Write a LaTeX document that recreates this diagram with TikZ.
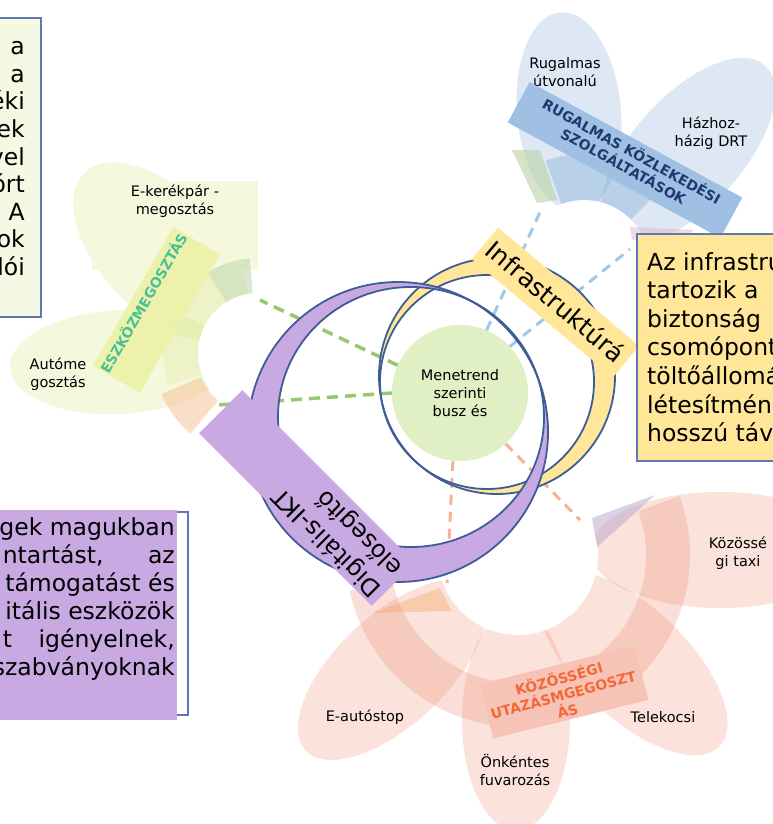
\documentclass[tikz,border=0pt]{standalone}
\usepackage{fontspec}
\setmainfont{DejaVu Sans}

\definecolor{ringblue}{RGB}{62,92,152}
\definecolor{boxline}{RGB}{95,120,178}
\definecolor{infrayellow}{RGB}{255,230,153}
\definecolor{digitpurple}{RGB}{201,169,226}
\definecolor{busgreen}{RGB}{224,240,196}
\definecolor{notegreen}{RGB}{246,248,227}
\definecolor{sharegreen}{RGB}{215,228,120}
\definecolor{sharebanner}{RGB}{236,242,166}
\definecolor{shareteal}{RGB}{72,192,150}
\definecolor{flexblue}{RGB}{120,165,215}
\definecolor{flexnavy}{RGB}{31,58,110}
\definecolor{commsalmon}{RGB}{240,140,115}
\definecolor{commorange}{RGB}{242,105,55}
\definecolor{dashgreen}{RGB}{150,200,110}
\definecolor{dashblue}{RGB}{160,200,235}
\definecolor{dashorange}{RGB}{245,180,145}
\definecolor{tintpink}{RGB}{225,180,205}
\definecolor{tintsage}{RGB}{185,210,165}
\definecolor{tintpeach}{RGB}{245,185,135}
\definecolor{tintlilac}{RGB}{185,165,205}

\newcommand{\clusterband}[6]{%
  \fill[#6] (#1) ++(#4:#3) arc[start angle=#4, end angle=#5, radius=#3]
    -- ++(#5:{#2-#3}) arc[start angle=#5, end angle=#4, radius=#2] -- cycle;}

\begin{document}
\begin{tikzpicture}[x=1pt, y=1pt,
  ringline/.style={draw=ringblue, line width=1.8pt},
  notebox/.style={draw=boxline, line width=1.5pt},
  notetext/.style={font=\fontsize{23.5}{28}\selectfont, inner sep=0pt},
  petallabel/.style={font=\fontsize{14.5}{18}\selectfont, align=center, inner sep=3pt},
  bannertext/.style={font=\bfseries\fontsize{14}{17}\selectfont, align=center, inner sep=0pt},
  greendash/.style={draw=dashgreen, line width=3.5pt, dash pattern=on 11pt off 7pt},
  bluedash/.style={draw=dashblue, line width=3pt, dash pattern=on 10pt off 7pt},
  orangedash/.style={draw=dashorange, line width=3pt, dash pattern=on 10pt off 7pt}]
\useasboundingbox (0,0) rectangle (773,-824);
\fill[white] (0,0) rectangle (773,-824);

% rugalmas kozlekedes
\coordinate (flexhub) at (584,-266);
\fill[flexblue, opacity=0.25, rotate around={95:(569,-112)}] (569,-112) ellipse [x radius=100, y radius=52];
\fill[flexblue, opacity=0.25, rotate around={48:(688,-151)}] (688,-151) ellipse [x radius=115, y radius=55];
\node[petallabel] (route) at (565,-72) {Rugalmas\\útvonalú};
\node[petallabel] (drt) at (711,-133) {Házhoz-\\házig DRT};
\fill[white] (flexhub) circle (66);
\clusterband{flexhub}{66}{112}{45}{110}{flexblue, opacity=0.35}
\fill[tintpink, opacity=0.5] (630,-227) -- (693,-230) -- (690,-236) -- (632,-240) -- cycle;
\fill[tintsage, opacity=0.6] (512,-150) -- (540,-150) -- (557,-200) -- (537,-203) -- cycle;
\fill[flexblue!70, rotate around={-28.5:(625,-160)}] (504,-183) rectangle ++(242,46);
\node[bannertext, text=flexnavy, rotate=-29] (flextitle) at (628,-158) {RUGALMAS KÖZLEKEDÉSI\\SZOLGÁLTATÁSOK};

% eszkozmegosztas
\coordinate (sharehub) at (258,-353);
\fill[sharegreen, opacity=0.25, rotate around={3:(120,-362)}] (120,-362) ellipse [x radius=110, y radius=52];
\fill[sharegreen, opacity=0.25, rotate around={134:(161,-252)}] (161,-252) ellipse [x radius=110, y radius=60];
\fill[sharegreen!25] (92,-181) rectangle (258,-270);
\node[petallabel] (ebike) at (175,-201) {E-kerékpár -\\megosztás};
\node[petallabel, fill=sharegreen!25] (carshare) at (58,-374) {Autóme\\gosztás};
\fill[white] (sharehub) circle (60);
\clusterband{sharehub}{60}{95}{95}{122}{tintsage, opacity=0.5}
\clusterband{sharehub}{60}{95}{122}{200}{sharegreen, opacity=0.22}
\clusterband{sharehub}{62}{105}{203}{230}{tintpeach, opacity=0.45}
\fill[sharebanner, opacity=0.9, rotate around={60:(156.5,-310)}] (76.5,-337) rectangle ++(160,54);
\node[bannertext, text=shareteal, rotate=60] (sharetitle) at (143,-303) {ESZKÖZMEGOSZTÁS};

% kozossegi utazasmegosztas
\coordinate (commhub) at (518,-555);
\fill[commsalmon, opacity=0.25] (720,-550) ellipse [x radius=130, y radius=58];
\fill[commsalmon, opacity=0.25, rotate around={-44:(633,-663)}] (633,-663) ellipse [x radius=120, y radius=55];
\fill[commsalmon, opacity=0.25] (516,-720) ellipse [x radius=54, y radius=110];
\fill[commsalmon, opacity=0.25, rotate around={43:(392,-670)}] (392,-670) ellipse [x radius=118, y radius=55];
\node[petallabel, fill=commsalmon!25] (taxi) at (738,-553) {Közössé\\gi taxi};
\node[petallabel, fill=commsalmon!25] (carpool) at (663,-717) {Telekocsi};
\node[petallabel, fill=commsalmon!25, inner ysep=6pt] (volunteer) at (515,-770) {Önkéntes\\fuvarozás};
\node[petallabel, fill=commsalmon!25] (hitch) at (365,-717) {E-autóstop};
\fill[white] (commhub) circle (80);
\fill[tintlilac, opacity=0.5] (592,-518) -- (655,-495) -- (597,-547) -- cycle;
\fill[tintpeach, opacity=0.55] (372,-613) -- (440,-588) -- (452,-611) -- cycle;
\clusterband{commhub}{128}{172}{192}{380}{commsalmon, opacity=0.28}
\fill[commsalmon!52, rotate around={14:(564,-692)}] (484,-720) rectangle ++(160,56);
\node[bannertext, text=commorange, rotate=15, font=\bfseries\fontsize{14}{16.5}\selectfont] (commtitle) at (563,-694) {KÖZÖSSÉGI\\UTAZÁSMGEGOSZT\\ÁS};

% kozponti resz
\node[circle, fill=busgreen, minimum size=136pt, inner sep=0pt, align=center,
  font=\fontsize{14.5}{18}\selectfont] (bus) at (460,-393) {Menetrend\\szerinti\\busz és};
\coordinate (g1) at (260,-300);
\coordinate (g2) at (217,-405);
\coordinate (b1) at (540,-212);
\coordinate (b2) at (630,-249);
\coordinate (o1) at (447,-583);
\coordinate (o2) at (580,-520);
\draw[greendash] (bus.156) -- (g1);
\draw[greendash] (bus.180) -- (g2);
\draw[bluedash] (bus.67) -- (b1);
\draw[bluedash] (bus.43) -- (b2);
\draw[orangedash] (bus.264) -- (o1);
\draw[orangedash] (bus.312) -- (o2);

\fill[infrayellow, even odd rule] (497,-376) circle (118) (487,-382) circle (107);
\draw[ringline] (497,-376) circle (118);
\draw[ringline] (487,-382) circle (107);
\fill[digitpurple, even odd rule] (398,-432) circle (150) (411,-417) ellipse [x radius=133, y radius=130];
\draw[ringline] (398,-432) circle (150);
\draw[ringline] (411,-417) ellipse [x radius=133, y radius=130];

\fill[infrayellow, rotate around={-40:(555.5,-302.5)}] (463.5,-323) rectangle ++(184,41);
\node[rotate=-40, inner sep=0pt, font=\fontsize{25}{30}\selectfont] (infra) at (556,-301) {Infrastruktúrá};
\fill[digitpurple, rotate around={-45:(307,-498)}] (185,-528.5) rectangle ++(244,61);
\node[rotate=135, align=left, inner sep=0pt, font=\fontsize{24}{30}\selectfont] (digital) at (338,-532) {Digitális-IKT\\elősegítő};

% szovegdobozok
\draw[notebox, fill=notegreen] (-5,-18) rectangle (41,-317);
\foreach \t [count=\i from 0] in {a,a,éki,ek,vel,órt,A,ok,lói}
  \node[notetext, anchor=base east] (left\i) at (25,{-55-27.5*\i}) {\t};

\draw[notebox, fill=infrayellow] (637,-234) rectangle (790,-461);
\foreach \t [count=\i from 0] in {Az infrastru,tartozik a,biztonság,csomópont,töltőállomá,létesítmén,hosszú táv}
  \node[notetext, anchor=base west] (right\i) at (647,{-270-28.6*\i}) {\t};

\draw[notebox] (-5,-512) rectangle (188,-715);
\fill[digitpurple] (-5,-510) rectangle (177,-720);
\foreach \t [count=\i from 0] in {gek magukban,{\makebox[172pt][s]{ntartást, az}},támogatást és,itális eszközök,{\makebox[172pt][s]{t igényelnek,}},szabványoknak}
  \node[notetext, anchor=base east] (low\i) at (175,{-535-28*\i}) {\t};
\end{tikzpicture}
\end{document}
